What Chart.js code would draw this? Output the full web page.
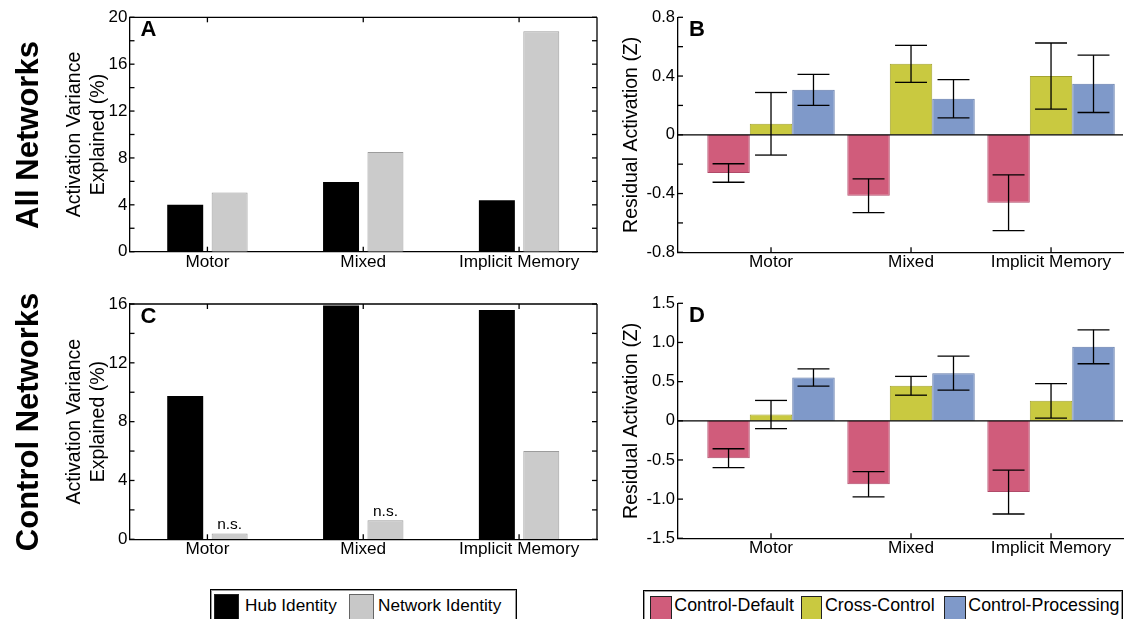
<!DOCTYPE html>
<html><head><meta charset="utf-8">
<script src="https://cdn.jsdelivr.net/npm/chart.js@4.4.1/dist/chart.umd.min.js"></script>
<style>
html,body{margin:0;padding:0;background:#fff;width:1124px;height:619px;overflow:hidden;font-family:"Liberation Sans",Arial,sans-serif;}
canvas{position:absolute;}
.row{position:absolute;font-weight:bold;font-size:31px;line-height:1;white-space:nowrap;transform:translate(-50%,-50%) rotate(-90deg);color:#000;}
.lg{position:absolute;box-sizing:border-box;border:1.5px solid #000;box-shadow:inset 0 0 0 1px #999;}
.sw{position:absolute;box-sizing:border-box;border:1px solid #222;}
.lt{position:absolute;white-space:nowrap;color:#000;line-height:1;}
</style></head>
<body>
<canvas id="cA" width="600" height="282" style="left:0;top:0"></canvas>
<canvas id="cB" width="524" height="282" style="left:600px;top:0"></canvas>
<canvas id="cC" width="600" height="290" style="left:0;top:280px"></canvas>
<canvas id="cD" width="524" height="290" style="left:600px;top:280px"></canvas>

<div class="row" style="left:27px;top:135px">All Networks</div>
<div class="row" style="left:27px;top:421.5px">Control Networks</div>

<div class="lg" style="left:210px;top:589px;width:306.5px;height:40px"></div>
<div class="sw" style="left:214px;top:593.5px;width:25px;height:26px;background:#000"></div>
<div class="lt" style="left:245px;top:597.4px;font-size:17.2px">Hub Identity</div>
<div class="sw" style="left:349px;top:593.5px;width:24.5px;height:26px;background:#c8c8c8;border-color:#666"></div>
<div class="lt" style="left:378px;top:597.4px;font-size:17.2px">Network Identity</div>

<div class="lg" style="left:642.7px;top:590.3px;width:480px;height:40px"></div>
<div class="sw" style="left:650px;top:595.7px;width:21.7px;height:24px;background:#d05c7b"></div>
<div class="lt" style="left:674.3px;top:597.2px;font-size:17.8px">Control-Default</div>
<div class="sw" style="left:800.7px;top:595.7px;width:21.7px;height:24px;background:#c9c940"></div>
<div class="lt" style="left:825px;top:597.2px;font-size:17.8px">Cross-Control</div>
<div class="sw" style="left:944px;top:595.7px;width:21.7px;height:24px;background:#7f99c9"></div>
<div class="lt" style="left:968.3px;top:597.2px;font-size:17.8px">Control-Processing</div>

<script>
// ---------- data ----------
const categories = ['Motor', 'Mixed', 'Implicit Memory'];

// Panel A / C: activation variance explained (%)
const hubAll  = [4.0, 5.95, 4.4];
const netAll  = [5.05, 8.5, 18.8];
const hubCtrl = [9.75, 15.9, 15.6];
const netCtrl = [0.4, 1.3, 6.0];
const nsCtrl  = ['n.s.', 'n.s.', ''];

// Panel B: residual activation (Z), all networks
const cdAll    = [-0.26, -0.415, -0.463];
const cdAllErr = [0.063, 0.115, 0.19];
const ccAll    = [0.075, 0.483, 0.40];
const ccAllErr = [0.213, 0.126, 0.225];
const cpAll    = [0.306, 0.245, 0.347];
const cpAllErr = [0.106, 0.13, 0.195];

// Panel D: residual activation (Z), control networks
const cdCtrl    = [-0.477, -0.81, -0.91];
const cdCtrlErr = [0.12, 0.16, 0.28];
const ccCtrl    = [0.08, 0.447, 0.255];
const ccCtrlErr = [0.18, 0.12, 0.22];
const cpCtrl    = [0.553, 0.608, 0.945];
const cpCtrlErr = [0.11, 0.217, 0.217];

// tick labels
const yLabelsA = [0, 4, 8, 12, 16, 20];
const yLabelsC = [0, 4, 8, 12, 16];
const yLabelsB = ['-0.8', '-0.4', '0', '0.4', '0.8'];
const yLabelsD = ['-1.5', '-1.0', '-0.5', '0', '0.5', '1.0', '1.5'];

// ---------- styling ----------
const FONT = "'Liberation Sans', Arial, sans-serif";
Chart.defaults.font.family = FONT;
Chart.defaults.color = '#000';
const LW = 1.3;

function makeFrame(cfg) {
  return {
    id: 'frame',
    afterDatasetsDraw(chart) {
      const ctx = chart.ctx, ca = chart.chartArea, xs = chart.scales.x, ys = chart.scales.y;
      const line = (x1, y1, x2, y2) => { ctx.beginPath(); ctx.moveTo(x1, y1); ctx.lineTo(x2, y2); ctx.stroke(); };
      ctx.save();
      ctx.strokeStyle = '#000'; ctx.lineWidth = LW;
      if (cfg.zero) { const p = ys.getPixelForValue(0); line(ca.left, p, ca.right, p); }
      if (cfg.errors) {
        cfg.errors.forEach((pair, di) => {
          const meta = chart.getDatasetMeta(di);
          meta.data.forEach((bar, i) => {
            const v = pair[0][i], e = pair[1][i];
            const y1 = ys.getPixelForValue(v + e), y2 = ys.getPixelForValue(v - e);
            const cw = bar.width * 0.376;
            line(bar.x, y1, bar.x, y2);
            line(bar.x - cw, y1, bar.x + cw, y1);
            line(bar.x - cw, y2, bar.x + cw, y2);
          });
        });
      }
      ys.ticks.forEach(t => {
        const p = ys.getPixelForValue(t.value);
        line(ca.left, p, ca.left + 5, p);
        if (cfg.box) line(ca.right - 5, p, ca.right, p);
      });
      xs.ticks.forEach((t, i) => {
        const p = xs.getPixelForTick(i);
        line(p, ca.bottom, p, ca.bottom - 5);
        if (cfg.box) line(p, ca.top, p, ca.top + 5);
      });
      if (cfg.box) {
        line(ca.left, ca.top, ca.right, ca.top);
        line(ca.right, ca.top, ca.right, ca.bottom);
      }
      ctx.fillStyle = '#000';
      ctx.textBaseline = 'alphabetic';
      ctx.textAlign = 'left';
      ctx.font = 'bold 22px ' + FONT;
      ctx.fillText(cfg.letter, ca.left + 11, ca.top + 18.7);
      if (cfg.ns) {
        ctx.font = '15.5px ' + FONT;
        ctx.textAlign = 'center';
        const meta = chart.getDatasetMeta(cfg.ns.dataset);
        meta.data.forEach((bar, i) => {
          if (cfg.ns.labels[i]) ctx.fillText(cfg.ns.labels[i], bar.x, bar.y - 4);
        });
      }
      ctx.restore();
    }
  };
}

function borderOpt() { return { display: true, color: '#000', width: LW }; }

function varianceChart(id, hub, net, yMax, yLabels, padTop, xH, letter, ns) {
  return new Chart(document.getElementById(id), {
    type: 'bar',
    data: {
      labels: categories,
      datasets: [
        { label: 'Hub Identity', data: hub, backgroundColor: '#000', borderColor: '#000', borderWidth: 0 },
        { label: 'Network Identity', data: net, backgroundColor: '#cbcbcb', borderColor: '#9c9c9c', borderWidth: 1 }
      ]
    },
    options: {
      responsive: false, animation: false, devicePixelRatio: 1,
      layout: { padding: { left: 0, right: 3, top: padTop, bottom: 0 } },
      datasets: { bar: { categoryPercentage: 0.57, barPercentage: 0.81 } },
      plugins: { legend: { display: false }, tooltip: { enabled: false } },
      scales: {
        x: {
          grid: { display: false, drawTicks: false },
          border: borderOpt(),
          ticks: { padding: 0, font: { size: 17.2 }, color: '#000', autoSkip: false, maxRotation: 0 },
          afterFit: s => { s.height = xH; }
        },
        y: {
          min: 0, max: yMax,
          grid: { display: false, drawTicks: false },
          border: borderOpt(),
          ticks: { stepSize: 2, padding: 2, font: { size: 17 }, color: '#000', autoSkip: false,
                   callback: v => yLabels.includes(v) ? String(v) : '' },
          title: { display: true, text: ['Activation Variance', 'Explained (%)'], color: '#000',
                   font: { size: 19.5, lineHeight: 1.231 }, padding: { top: 63, bottom: 0 } },
          afterFit: s => { s.width = 129.5; }
        }
      }
    },
    plugins: [makeFrame({ letter, box: true, ns })]
  });
}

function residualChart(id, cd, cdE, cc, ccE, cp, cpE, yMin, yMax, step, labelStep, yLabels, padTop, xH, letter) {
  const pts = arr => arr.map((v, i) => ({ x: i + 1, y: v }));
  const isLab = v => Math.abs(Math.round(v / labelStep) * labelStep - v) < 1e-9;
  const fmt = v => { const s = (Math.abs(v) < 1e-9) ? '0' : v.toFixed(1); return yLabels.includes(s) ? s : ''; };
  return new Chart(document.getElementById(id), {
    type: 'bar',
    data: {
      datasets: [
        { label: 'Control-Default', data: pts(cd), backgroundColor: '#d05c7b', borderColor: '#b04a69', borderWidth: 1 },
        { label: 'Cross-Control', data: pts(cc), backgroundColor: '#c9c940', borderColor: '#a4a42f', borderWidth: 1 },
        { label: 'Control-Processing', data: pts(cp), backgroundColor: '#7f99c9', borderColor: '#6079a9', borderWidth: 1 }
      ]
    },
    options: {
      responsive: false, animation: false, devicePixelRatio: 1,
      layout: { padding: { left: 0, right: 1, top: padTop, bottom: 0 } },
      datasets: { bar: { categoryPercentage: 0.91, barPercentage: 1.0 } },
      plugins: { legend: { display: false }, tooltip: { enabled: false } },
      scales: {
        x: {
          type: 'linear', min: 0.3357, max: 3.514, offset: false,
          grid: { display: false, drawTicks: false, offset: false },
          border: borderOpt(),
          ticks: { padding: 0, font: { size: 17.2 }, color: '#000', autoSkip: false, maxRotation: 0,
                   callback: v => categories[v - 1] || '' },
          afterBuildTicks: s => { s.ticks = categories.map((c, i) => ({ value: i + 1 })); },
          afterFit: s => { s.height = xH; }
        },
        y: {
          min: yMin, max: yMax,
          grid: { display: false, drawTicks: false },
          border: borderOpt(),
          ticks: { stepSize: step, padding: 3, font: { size: 16.5 }, color: '#000', autoSkip: false,
                   callback: v => isLab(v) ? fmt(v) : '' },
          title: { display: true, text: 'Residual Activation (Z)', color: '#000',
                   font: { size: 19.5, lineHeight: 1.231 }, padding: { top: 20, bottom: 0 } },
          afterFit: s => { s.width = 78; }
        }
      }
    },
    plugins: [makeFrame({ letter, box: false, zero: true,
      errors: [[cd, cdE], [cc, ccE], [cp, cpE]] })]
  });
}

varianceChart('cA', hubAll, netAll, 20, yLabelsA, 17.3, 30.3, 'A', null);
varianceChart('cC', hubCtrl, netCtrl, 16, yLabelsC, 24, 30.7, 'C', { dataset: 1, labels: nsCtrl });
residualChart('cB', cdAll, cdAllErr, ccAll, ccAllErr, cpAll, cpAllErr, -0.8, 0.8, 0.2, 0.4, yLabelsB, 17.3, 29.7, 'B');
residualChart('cD', cdCtrl, cdCtrlErr, ccCtrl, ccCtrlErr, cpCtrl, cpCtrlErr, -1.5, 1.5, 0.5, 0.5, yLabelsD, 23.3, 31.7, 'D');
</script>
</body></html>
